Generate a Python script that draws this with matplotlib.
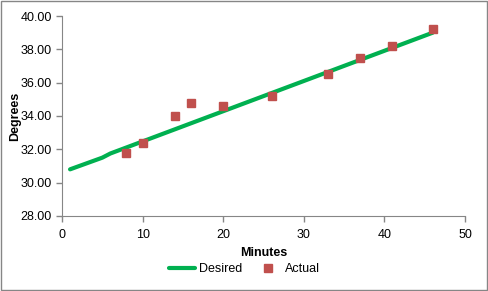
import matplotlib.pyplot as plt
from matplotlib.patches import Rectangle

# Desired temperature curve
desired_minutes = [1, 5, 6, 46]
desired_degrees = [30.8, 31.5, 31.75, 39.0]

# Actual readings
actual_minutes = [8, 10, 14, 16, 20, 26, 33, 37, 41, 46]
actual_degrees = [31.78, 32.38, 34.0, 34.78, 34.6, 35.2, 36.52, 37.48, 38.2, 39.22]

x_ticks = [0, 10, 20, 30, 40, 50]
y_ticks = [28, 30, 32, 34, 36, 38, 40]

plt.rcParams["font.family"] = ["Liberation Sans", "DejaVu Sans"]
axis_gray = "#868686"

fig = plt.figure(figsize=(4.89, 2.91), dpi=100)
ax = fig.add_axes([62 / 489, 1 - 216 / 291, (465 - 62) / 489, 200 / 291])

ax.plot(desired_minutes, desired_degrees, color="#00B050", linewidth=3,
        solid_capstyle="round", label="Desired")
ax.plot(actual_minutes, actual_degrees, linestyle="none", marker="s",
        markersize=6, color="#C0504D", markeredgecolor="#C0504D", label="Actual")

ax.set_xlim(0, 50)
ax.set_ylim(28, 40)
ax.set_xticks(x_ticks)
ax.set_yticks(y_ticks)
ax.set_yticklabels([f"{v:.2f}" for v in y_ticks])
ax.tick_params(colors=axis_gray, labelcolor="black", labelsize=9, length=4, width=1)
ax.tick_params(axis="x", pad=5)

for side in ["top", "right"]:
    ax.spines[side].set_visible(False)
for side in ["left", "bottom"]:
    ax.spines[side].set_color(axis_gray)

ax.set_xlabel("Minutes", fontsize=9, fontweight="bold", labelpad=5)
ax.set_ylabel("Degrees", fontsize=9, fontweight="bold", labelpad=-1)

fig.legend(loc="center", bbox_to_anchor=(0.5, 1 - 269 / 291), ncol=2, frameon=False,
           fontsize=9, handlelength=2.1, columnspacing=1.0, handletextpad=0.3)

fig.patches.append(Rectangle((0.002, 0.003), 0.994, 0.994, transform=fig.transFigure,
                             fill=False, edgecolor=axis_gray, linewidth=1))

fig.savefig("out.png", dpi=100)
